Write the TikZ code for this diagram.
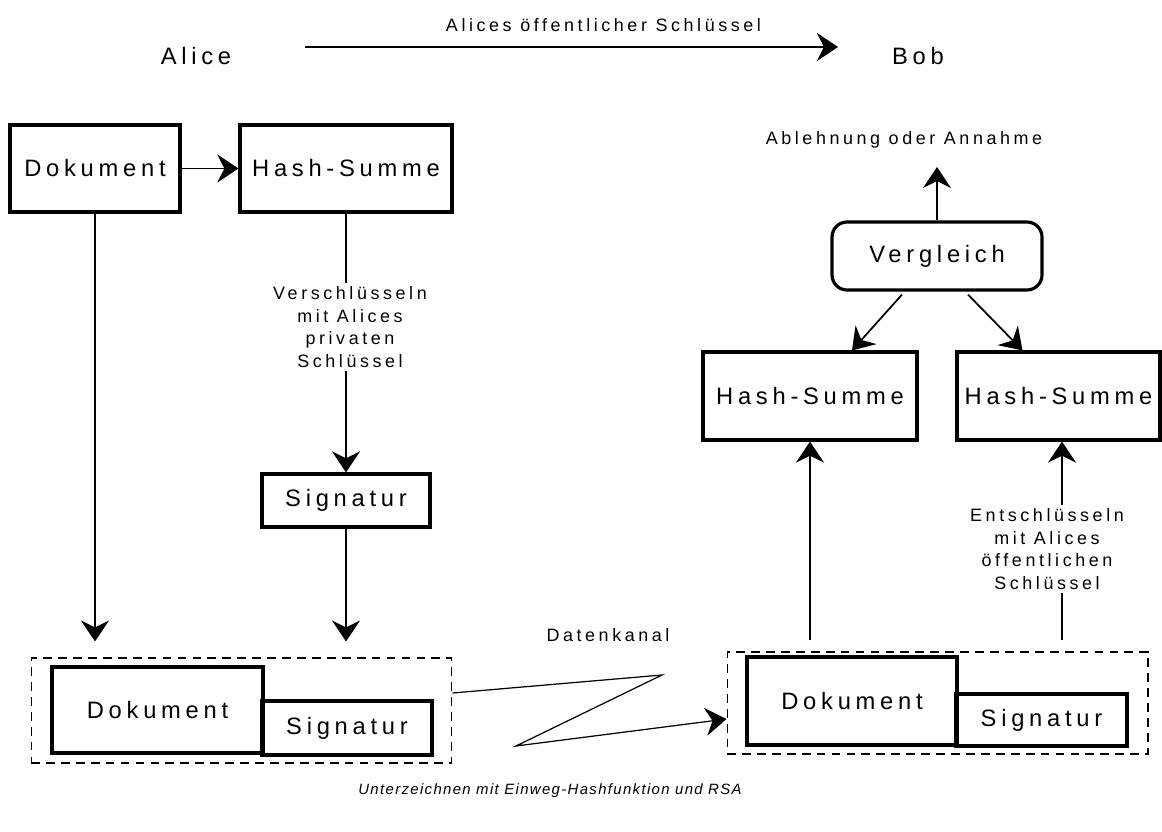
\documentclass[tikz,border=0pt]{standalone}
\usepackage{fontspec}
\setmainfont[LetterSpace=20]{Liberation Sans}
\newfontfamily\captionfont[LetterSpace=9]{Liberation Sans}
\usetikzlibrary{positioning,arrows.meta,calc}

\begin{document}
\begin{tikzpicture}[
  x=0.02cm, y=-0.02cm,
  font=\fontsize{13.5}{16}\selectfont,
  blk/.style ={draw, line width=1.8pt, inner sep=0pt, align=center},
  pkg/.style ={draw, line width=0.6pt, dash pattern=on 5pt off 3.5pt, inner sep=0pt},
  lbl/.style ={font=\fontsize{10.2}{12.8}\selectfont, align=center, inner sep=2pt},
  arr/.style ={-{Stealth[length=12pt, width=16pt, inset=4pt]}, line width=1pt},
  lnk/.style ={line width=1pt},
]
\useasboundingbox (0,0) rectangle (1162,831);

% ==================== Top: key exchange ====================
\node (alice) at (196,56) {Alice};
\node (bob)   at (918,56) {Bob};
\coordinate (keyA) at (305,47);
\coordinate (keyB) at (838,47);
\draw[arr] (keyA) -- node[lbl, above=6pt, pos=0.56] (keylbl) {Alices öffentlicher Schlüssel} (keyB);

% ==================== Left: Alice signs ====================
\node[blk, minimum width=3.4cm,  minimum height=1.74cm] (doc)  at (95,168.5)  {Dokument};
\node[blk, minimum width=4.24cm, minimum height=1.74cm] (hash) at (346,168.5) {Hash-Summe};
\node[lbl] (enc) at (350,327) {Verschlüsseln\\mit Alices\\privaten\\Schlüssel};
\node[blk, minimum width=3.36cm, minimum height=1.06cm] (sig)  at (346,500.5) {Signatur};

% packet sent by Alice
\node[pkg, minimum width=8.42cm, minimum height=2.1cm] (outbox) at (241.5,710.5) {};
\node[blk, minimum width=4.22cm, minimum height=1.72cm] (outdoc) at (157.5,710) {Dokument};
\node[blk, minimum width=3.4cm,  minimum height=1.08cm] (outsig) at (347,728)   {Signatur};

% ==================== Channel ====================
\node[lbl] (chan) at (608,635) {Datenkanal};
\coordinate (zigA) at (662,675);
\coordinate (zigB) at (516,746);

% ==================== Right: Bob verifies ====================
\node[pkg, minimum width=8.42cm, minimum height=2.04cm] (inbox) at (937.5,703) {};
\node[blk, minimum width=4.2cm,  minimum height=1.76cm] (indoc) at (852,701)    {Dokument};
\node[blk, minimum width=3.42cm, minimum height=1.04cm] (insig) at (1041.5,720) {Signatur};

\node[blk, minimum width=4.28cm, minimum height=1.76cm] (hashA) at (810,396)    {Hash-Summe};
\node[blk, minimum width=4.06cm, minimum height=1.76cm] (hashB) at (1058.5,396) {Hash-Summe};
\node[lbl] (dec) at (1047,549) {Entschlüsseln\\mit Alices\\öffentlichen\\Schlüssel};

\node[blk, rounded corners=0.3cm, minimum width=4.2cm, minimum height=1.36cm] (cmp) at (937,256) {Vergleich};
\node[lbl] (verdict) at (904,140) {Ablehnung oder Annahme};
\coordinate (res) at (937,167);

\node[lbl, font=\fontsize{8.5}{10}\captionfont\itshape] (caption) at (550,791) {Unterzeichnen mit Einweg-Hashfunktion und RSA};

% ==================== Arrows ====================
\draw[arr] (doc) -- (hash);
\draw[lnk] (hash.south) -- (hash.south |- enc.north);
\draw[arr] (hash.south |- enc.south) -- (sig.north);
\draw[arr, shorten >=0.32cm] (doc.south) -- (doc.south |- outbox.north);
\draw[arr, shorten >=0.32cm] (sig.south) -- (sig.south |- outbox.north);

% data channel
\draw[arr, line width=0.7pt] ($(outbox.east)+(0,-17.5)$) -- (zigA) -- (zigB) -- ($(inbox.west)+(0,16)$);

% Bob's side
\draw[arr, shorten <=0.22cm] (hashA.south |- inbox.north) -- (hashA.south);
\draw[lnk, shorten <=0.22cm] (1062,0 |- inbox.north) -- (1062,0 |- dec.south);
\draw[arr] (1062,0 |- dec.north) -- (1062,0 |- hashB.south);
\draw[arr] ($(cmp.south)+(-35,3)$) -- ($(hashA.north)+(42,0)$);
\draw[arr] ($(cmp.south)+(31,3)$) -- ($(hashB.north)+(-36,0)$);
\draw[arr] (cmp.north) -- (res);

\end{tikzpicture}
\end{document}
